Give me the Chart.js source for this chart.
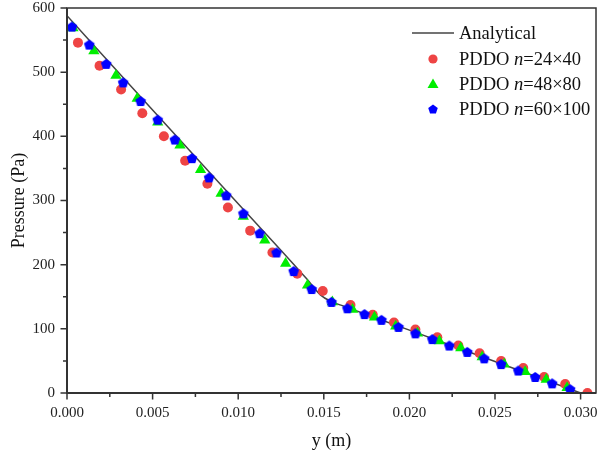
<!DOCTYPE html>
<html>
<head>
<meta charset="utf-8">
<script src="https://cdn.jsdelivr.net/npm/chart.js@4"></script>
<style>
  html, body { margin: 0; padding: 0; background: #fff; }
  #wrap { width: 598px; height: 457px; }
</style>
</head>
<body>
<div id="wrap"><canvas id="chart" width="598" height="457"></canvas></div>
<script>
// Analytical solution
const analyticX = [0, 0.005, 0.010, 0.0140, 0.0148, 0.0154, 0.0162, 0.020, 0.025, 0.030];
const analyticP = [588, 441, 295, 178, 153, 143, 135, 98, 49, 0];

// PDDO n=24x40
const coarseX = [0.00064, 0.0019, 0.00316, 0.0044, 0.00566, 0.0069, 0.0082, 0.0094, 0.0107, 0.0120, 0.01345, 0.01494,
  0.01656, 0.01786, 0.0191, 0.02035, 0.02163, 0.02286, 0.0241, 0.02536, 0.02665, 0.02787, 0.0291, 0.0304];
const coarseP = [546, 510, 473, 436, 400, 362, 326, 289, 253, 219, 186, 159,
  137, 122, 110, 99, 87, 74, 62, 50, 39, 25, 14, 0];

// PDDO n=48x80
const mediumX = [0.00035, 0.00157, 0.00286, 0.0041, 0.0053, 0.0066, 0.0078, 0.0090, 0.0103, 0.01155, 0.01277, 0.01405,
  0.0155, 0.01668, 0.01796, 0.0192, 0.02047, 0.02175, 0.0230, 0.02425, 0.02554, 0.02676, 0.02799, 0.02921];
const mediumP = [569, 533, 495, 459, 422, 386, 348, 311, 275, 238, 202, 168,
  142, 130, 118, 104, 93, 81, 70, 56, 45, 33, 21, 8];

// PDDO n=60x100
const fineX = [0.00029, 0.0013, 0.00229, 0.00328, 0.0043, 0.0053, 0.0063, 0.0073, 0.0083, 0.0093, 0.0103, 0.01125,
  0.01224, 0.01324, 0.01429, 0.01545, 0.01638, 0.01738, 0.01837, 0.01936, 0.02035, 0.02134, 0.02233, 0.02338,
  0.02437, 0.02536, 0.02636, 0.02735, 0.02834, 0.02939];
const fineP = [571, 543, 513, 484, 455, 426, 395, 366, 336, 308, 280, 249,
  219, 190, 162, 142, 132, 123, 114, 103, 93, 84, 74, 64,
  54, 45, 35, 25, 15, 6];

// axis ticks
const xMajor = [0, 0.005, 0.010, 0.015, 0.020, 0.025, 0.030];
const xMinor = [0.0025, 0.0075, 0.0125, 0.0175, 0.0225, 0.0275];
const yMajor = [0, 100, 200, 300, 400, 500, 600];
const yMinor = [50, 150, 250, 350, 450, 550];

const seriesNames = ['Analytical', 'PDDO n=24×40', 'PDDO n=48×80', 'PDDO n=60×100'];

const serif = '"Liberation Serif", "Times New Roman", serif';
const pts = (xs, ys) => xs.map((x, i) => ({ x: x, y: ys[i] }));
const isMajor = (v, list) => list.some(m => Math.abs(m - v) < 1e-9);

// pentagon marker
function pentagon(r, color) {
  const c = document.createElement('canvas');
  const s = Math.ceil(r * 2 + 2);
  c.width = s; c.height = s;
  const g = c.getContext('2d');
  g.fillStyle = color;
  g.beginPath();
  for (let i = 0; i < 5; i++) {
    const a = -Math.PI / 2 + i * 2 * Math.PI / 5;
    const px = s / 2 + r * Math.cos(a), py = s / 2 + r * Math.sin(a) + 0.5;
    i ? g.lineTo(px, py) : g.moveTo(px, py);
  }
  g.closePath();
  g.fill();
  return c;
}
const penta = pentagon(5.6, '#0000ff');
const pentaSmall = pentagon(5, '#0000ff');

// frame, tick marks and legend
const decor = {
  id: 'decor',
  afterDraw(chart) {
    const ctx = chart.ctx;
    const a = chart.chartArea;
    const xs = chart.scales.x, ys = chart.scales.y;
    ctx.save();
    ctx.strokeStyle = '#333';
    // ticks
    ctx.lineWidth = 1.5;
    ctx.beginPath();
    xMajor.concat(xMinor).forEach(v => {
      const p = xs.getPixelForValue(v);
      ctx.moveTo(p, a.bottom);
      ctx.lineTo(p, a.bottom + (isMajor(v, xMajor) ? 6.5 : 4));
    });
    yMajor.concat(yMinor).forEach(v => {
      const p = ys.getPixelForValue(v);
      ctx.moveTo(a.left, p);
      ctx.lineTo(a.left - (isMajor(v, yMajor) ? 6.5 : 4), p);
    });
    ctx.stroke();
    // box
    ctx.lineWidth = 1.5;
    ctx.strokeRect(a.left, a.top, a.right - a.left, a.bottom - a.top);
    ctx.lineWidth = 2;
    ctx.beginPath();
    ctx.moveTo(a.left, a.top);
    ctx.lineTo(a.left, a.bottom);
    ctx.lineTo(a.right, a.bottom);
    ctx.stroke();

    // legend
    const rows = [33, 59, 84, 109];
    const iconX = 433, textX = 459;
    ctx.strokeStyle = '#444';
    ctx.lineWidth = 1.5;
    ctx.beginPath();
    ctx.moveTo(412, rows[0]);
    ctx.lineTo(454, rows[0]);
    ctx.stroke();
    ctx.fillStyle = '#ee4444';
    ctx.beginPath(); ctx.arc(iconX, rows[1], 4.6, 0, Math.PI * 2); ctx.fill();
    ctx.fillStyle = '#00ee00';
    ctx.beginPath();
    ctx.moveTo(iconX, rows[2] - 5.5);
    ctx.lineTo(iconX + 5.5, rows[2] + 4);
    ctx.lineTo(iconX - 5.5, rows[2] + 4);
    ctx.closePath(); ctx.fill();
    ctx.drawImage(pentaSmall, iconX - pentaSmall.width / 2, rows[3] - pentaSmall.height / 2);

    ctx.fillStyle = '#111';
    ctx.textBaseline = 'middle';
    ctx.textAlign = 'left';
    seriesNames.forEach((name, i) => {
      let x = textX;
      const y = rows[i] + 1;
      const k = name.indexOf(' n=');
      if (k < 0) {
        ctx.font = '18.5px ' + serif;
        ctx.fillText(name, x, y);
        return;
      }
      const parts = [[name.slice(0, k + 1), ''], ['n', 'italic '], [name.slice(k + 2), '']];
      parts.forEach(([t, st]) => {
        ctx.font = st + '18.5px ' + serif;
        ctx.fillText(t, x, y);
        x += ctx.measureText(t).width;
      });
    });
    ctx.restore();
  }
};

new Chart(document.getElementById('chart'), {
  type: 'scatter',
  data: {
    datasets: [
      { label: seriesNames[3], data: pts(fineX, fineP), pointStyle: penta, pointRadius: 5.6,
        backgroundColor: '#0000ff', borderWidth: 0, order: 1 },
      { label: seriesNames[2], data: pts(mediumX, mediumP), pointStyle: 'triangle', pointRadius: 6.5,
        backgroundColor: '#00ee00', borderWidth: 0, order: 2 },
      { label: seriesNames[1], data: pts(coarseX, coarseP), pointStyle: 'circle', pointRadius: 5,
        backgroundColor: '#ee4444', borderWidth: 0, order: 3 },
      { type: 'line', label: seriesNames[0], data: pts(analyticX, analyticP), showLine: true, pointRadius: 0,
        borderColor: '#444', borderWidth: 1.5, fill: false, cubicInterpolationMode: 'monotone', order: 4 }
    ]
  },
  options: {
    responsive: false,
    animation: false,
    events: [],
    layout: { autoPadding: false, padding: { top: 8, right: 2, left: 0, bottom: 0 } },
    plugins: { legend: { display: false }, tooltip: { enabled: false } },
    scales: {
      x: {
        type: 'linear', min: 0, max: 0.0309,
        afterFit(s) { s.height = 64; s.paddingLeft = 0; s.paddingRight = 0; },
        afterBuildTicks(s) { s.ticks = xMajor.concat(xMinor).sort((p, q) => p - q).map(v => ({ value: v })); },
        grid: { display: false, drawTicks: true, tickLength: 11 },
        border: { display: false },
        ticks: {
          callback: v => isMajor(v, xMajor) ? v.toFixed(3) : '',
          font: { family: serif, size: 15 }, color: '#222', padding: 0, maxRotation: 0, autoSkip: false
        },
        title: { display: true, text: 'y (m)', font: { family: serif, size: 18 }, color: '#111', padding: { bottom: 5 } }
      },
      y: {
        type: 'linear', min: 0, max: 600,
        afterFit(s) { s.width = 67; s.paddingTop = 0; s.paddingBottom = 0; },
        afterBuildTicks(s) { s.ticks = yMajor.concat(yMinor).sort((p, q) => p - q).map(v => ({ value: v })); },
        grid: { display: false, drawTicks: true, tickLength: 12 },
        border: { display: false },
        ticks: {
          callback: v => isMajor(v, yMajor) ? String(v) : '',
          font: { family: serif, size: 15 }, color: '#222', padding: 0, autoSkip: false
        },
        title: { display: true, text: 'Pressure (Pa)', font: { family: serif, size: 18 }, color: '#111', padding: { top: 8 } }
      }
    }
  },
  plugins: [decor]
});
</script>
</body>
</html>
